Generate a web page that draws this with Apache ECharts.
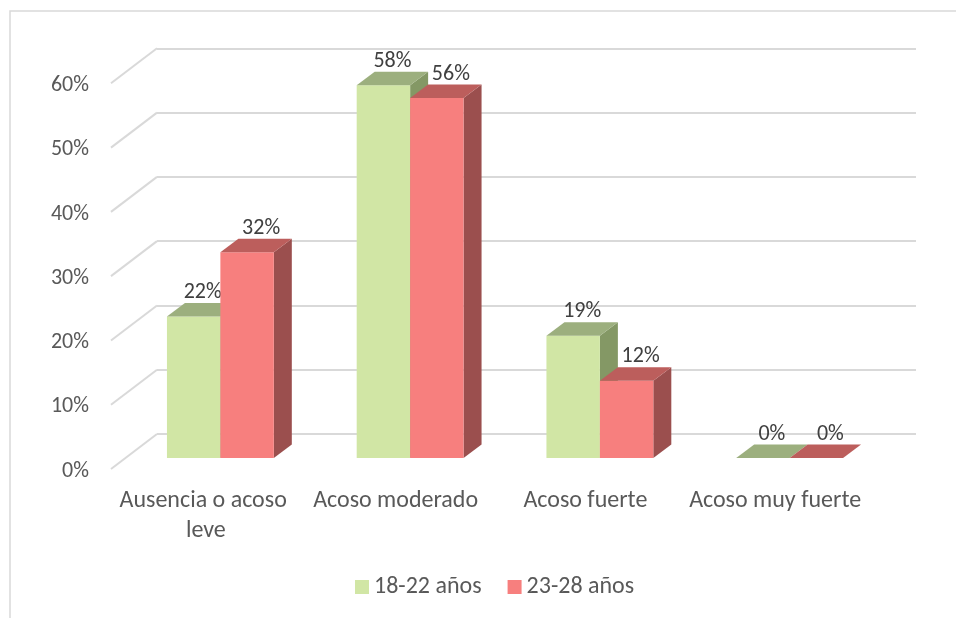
<!DOCTYPE html>
<html>
<head>
<meta charset="utf-8">
<script src="https://cdn.jsdelivr.net/npm/echarts@6/dist/echarts.min.js"></script>
<style>
html,body{margin:0;padding:0;background:#fff;}
#chart{width:956px;height:618px;}
</style>
</head>
<body>
<div id="chart"></div>
<script>
const categories = ['Ausencia o acoso leve', 'Acoso moderado', 'Acoso fuerte', 'Acoso muy fuerte'];
const seriesNames = ['18-22 años', '23-28 años'];
const values1822 = [0.22, 0.58, 0.19, 0];
const values2328 = [0.32, 0.56, 0.12, 0];
const yTicks = [0, 0.1, 0.2, 0.3, 0.4, 0.5, 0.6];

const FONT = 'Carlito, Lato, sans-serif';
const DX = 18, DY = 13.5;           // bar depth projection
const WX = -46, WY = 35;            // floor diagonal projection
const pct = v => Math.round(v * 100) + '%';

const palettes = [
  {front: '#D1E6A5', top: '#9CAF7E', side: '#849865', labelOff: 9},
  {front: '#F77F7E', top: '#BC5E5C', side: '#9B4F4E', labelOff: 14}
];

function barRenderer(si) {
  const p = palettes[si];
  return function (params, api) {
    const cat = api.value(0), val = api.value(1);
    const top = api.coord([cat, val]);
    const base = api.coord([cat, 0]);
    const band = api.size([1, 0])[0];
    const bw = band * 0.2816;
    const x0 = si === 0 ? top[0] - bw : top[0];
    const x1 = x0 + bw;
    const yt = top[1], yb = base[1];
    const children = [
      {type: 'polygon', shape: {points: [[x1, yt], [x1 + DX, yt - DY], [x1 + DX, yb - DY], [x1, yb]]},
       style: {fill: p.side}},
      {type: 'rect', shape: {x: x0, y: yt, width: bw, height: yb - yt}, style: {fill: p.front}},
      {type: 'polygon', shape: {points: [[x0, yt], [x1, yt], [x1 + DX, yt - DY], [x0 + DX, yt - DY]]},
       style: {fill: p.top}},
      {type: 'text', x: x0 + bw / 2 + p.labelOff, y: yt - DY - 10.5,
       style: {text: pct(val), fill: '#404040', font: '22px ' + FONT, align: 'center', verticalAlign: 'middle'}}
    ];
    return {type: 'group', children: children};
  };
}

const chart = echarts.init(document.getElementById('chart'), null, {renderer: 'canvas'});
chart.setOption({
  backgroundColor: '#ffffff',
  animation: false,
  graphic: [{
    type: 'rect', shape: {x: 10, y: 11, width: 1000, height: 700},
    style: {fill: 'none', stroke: '#D9D9D9', lineWidth: 1.5}, silent: true
  }],
  legend: {
    data: seriesNames,
    left: 355, top: 575, padding: 0,
    icon: 'rect', itemWidth: 14, itemHeight: 14, itemGap: 26,
    textStyle: {color: '#595959', fontSize: 24, fontFamily: FONT}
  },
  grid: [
    {left: 125.5, width: 759, top: 72.3, height: 385.7},   // bar front plane
    {left: 111, width: 759, top: 85.5, height: 385.7},     // floor front edge (labels)
    {left: 157, width: 759, top: 48.3, height: 385.7}      // back wall
  ],
  xAxis: [
    {gridIndex: 0, type: 'category', data: categories, show: false},
    {gridIndex: 1, type: 'category', data: categories,
     axisLine: {show: false}, axisTick: {show: false},
     axisLabel: {color: '#595959', fontSize: 24, fontFamily: FONT, margin: 15,
                 width: 185, overflow: 'break', lineHeight: 30, interval: 0}},
    {gridIndex: 2, type: 'value', min: 0, max: 1, show: false}
  ],
  yAxis: [
    {gridIndex: 0, type: 'value', min: 0, max: 0.6, interval: 0.1, show: false},
    {gridIndex: 1, type: 'value', min: 0, max: 0.6, interval: 0.1,
     axisLine: {show: false}, axisTick: {show: false}, splitLine: {show: false},
     axisLabel: {color: '#595959', fontSize: 22, fontFamily: FONT, margin: 22, formatter: pct}},
    {gridIndex: 2, type: 'value', min: 0, max: 0.6, interval: 0.1,
     axisLine: {show: false}, axisTick: {show: false}, axisLabel: {show: false},
     splitLine: {show: true, lineStyle: {color: '#D9D9D9', width: 2}}}
  ],
  series: [
    {
      type: 'custom', name: 'walls', xAxisIndex: 2, yAxisIndex: 2, silent: true,
      data: yTicks.map(v => [0, v]),
      renderItem: function (params, api) {
        const c = api.coord([api.value(0), api.value(1)]);
        return {type: 'line', shape: {x1: c[0], y1: c[1], x2: c[0] + WX, y2: c[1] + WY},
                style: {stroke: '#D9D9D9', lineWidth: 2}};
      }
    },
    {
      type: 'custom', name: seriesNames[0], xAxisIndex: 0, yAxisIndex: 0,
      itemStyle: {color: palettes[0].front},
      data: values1822.map((v, i) => [i, v]),
      renderItem: barRenderer(0)
    },
    {
      type: 'custom', name: seriesNames[1], xAxisIndex: 0, yAxisIndex: 0,
      itemStyle: {color: palettes[1].front},
      data: values2328.map((v, i) => [i, v]),
      renderItem: barRenderer(1)
    }
  ]
});
</script>
</body>
</html>
